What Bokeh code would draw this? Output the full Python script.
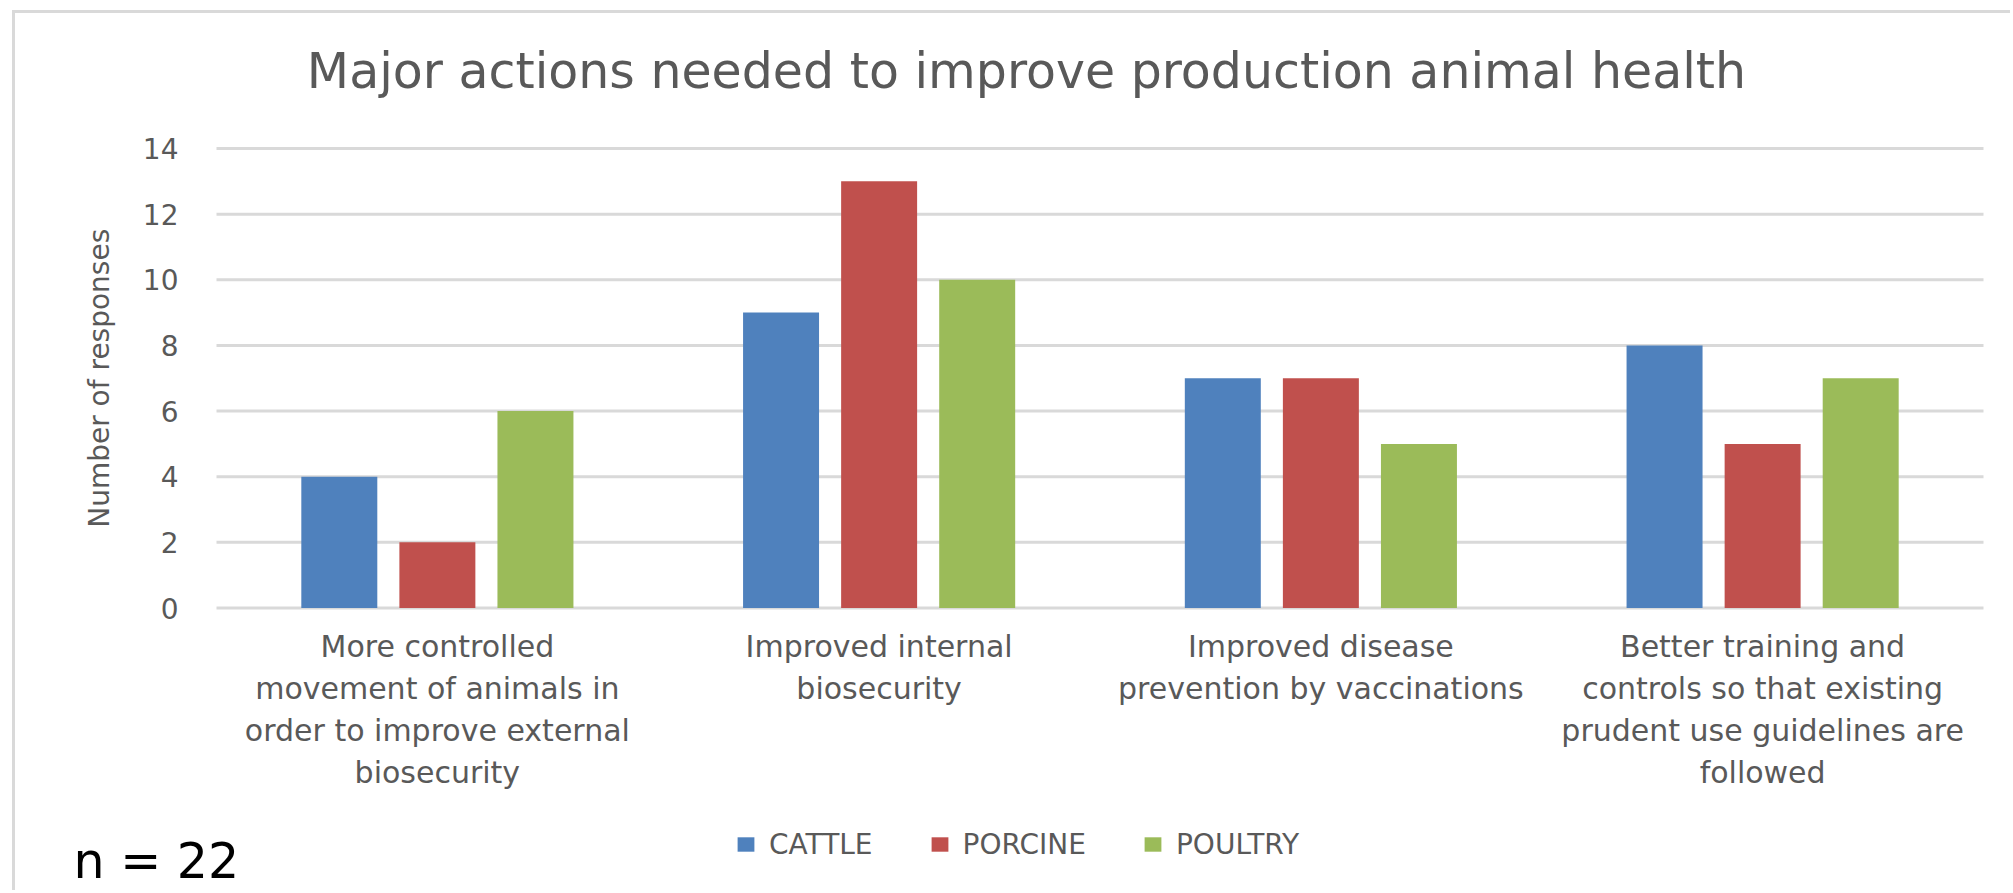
import math
from bokeh.plotting import figure
from bokeh.models import Range1d, Legend, LegendItem, Label, ColumnDataSource
from bokeh.core.properties import value
from bokeh.embed import file_html
from bokeh.resources import INLINE

# ---- data ----
categories = [
    "More controlled\nmovement of animals in\norder to improve external\nbiosecurity",
    "Improved internal\nbiosecurity",
    "Improved disease\nprevention by vaccinations",
    "Better training and\ncontrols so that existing\nprudent use guidelines are\nfollowed",
]
series_names = ["CATTLE", "PORCINE", "POULTRY"]
cattle = [4, 9, 7, 8]
porcine = [2, 13, 7, 5]
poultry = [6, 10, 5, 7]
y_ticks = [0, 2, 4, 6, 8, 10, 12, 14]
title_text = "Major actions needed to improve production animal health"
y_label = "Number of responses"
note_text = "n = 22"

# ---- style / layout (pixels of the page) ----
colors = ["#4F81BD", "#C0504D", "#9BBB59"]
FONT = value("DejaVu Sans")
GREY = "#595959"
GRID = "#D9D9D9"

OX, OY = 15, 13                 # canvas origin on the page (margin + border)
W, H = 2013 - OX, 893 - OY
PLOT_L, PLOT_R = 216, 1983      # plot area on the page
PLOT_T, PLOT_B = 148, 607.5
LABEL_SHIFT = 18                # empirical baseline correction for Label annotations

n_cat = len(categories)
ymax = y_ticks[-1]
ppu_y = (PLOT_B - PLOT_T) / ymax
ppu_x = (PLOT_R - PLOT_L) / n_cat
x_start = -(PLOT_L - OX) / ppu_x
x_end = n_cat + (OX + W - PLOT_R) / ppu_x
y_start = -(OY + H - PLOT_B) / ppu_y
y_end = ymax + (PLOT_T - OY) / ppu_y

p = figure(x_range=Range1d(x_start, x_end), y_range=Range1d(y_start, y_end),
           width=W, height=H, output_backend="svg", toolbar_location=None,
           x_axis_location=None, y_axis_location=None, title=None, min_border=0)
p.outline_line_color = None
p.grid.visible = False
p.margin = (10, 0, 0, 12)
p.styles = {"border-top": "3px solid #D9D9D9", "border-left": "3px solid #D9D9D9"}

# gridlines (value axis)
p.segment(x0=[0] * len(y_ticks), x1=[n_cat] * len(y_ticks), y0=y_ticks, y1=y_ticks,
          line_color=GRID, line_width=3)

# bars
centers = [i + 0.5 for i in range(n_cat)]
offsets = [-0.222, 0.0, 0.222]
values = {"CATTLE": cattle, "PORCINE": porcine, "POULTRY": poultry}
renderers = []
for name, off, col in zip(series_names, offsets, colors):
    s = ColumnDataSource(dict(x=[c + off for c in centers], top=values[name]))
    r = p.vbar(x="x", top="top", width=0.172, source=s, fill_color=col, line_color=None)
    renderers.append(r)

# y tick labels
p.text(x=[0] * len(y_ticks), y=y_ticks, text=[str(t) for t in y_ticks],
       x_offset=-38, text_align="right", text_baseline="middle",
       text_font=FONT, text_font_size="28px", text_color=GREY)

# y axis label
p.text(x=[0], y=[ymax / 2], text=[y_label], angle=math.pi / 2, x_offset=-117,
       text_align="center", text_baseline="middle",
       text_font=FONT, text_font_size="28px", text_color=GREY)

# category labels
p.text(x=centers, y=[0] * n_cat, text=categories, y_offset=21,
       text_align="center", text_baseline="top", text_line_height=1.2,
       text_font=FONT, text_font_size="30px", text_color=GREY)

# title
p.add_layout(Label(x=1026 - OX, y=893 - 89 + LABEL_SHIFT, x_units="screen", y_units="screen",
                   text=title_text, text_align="center", text_baseline="alphabetic",
                   text_font="DejaVu Sans", text_font_size="49px", text_color=GREY))

# legend
legend = Legend(items=[LegendItem(label=n, renderers=[r]) for n, r in zip(series_names, renderers)],
                orientation="horizontal", location=(735 - OX, 893 - 860.5),
                glyph_width=21, glyph_height=18, label_standoff=13, spacing=56,
                padding=0, margin=0, border_line_color=None, background_fill_alpha=0,
                label_text_font="DejaVu Sans", label_text_font_size="28px", label_text_color=GREY)
p.add_layout(legend, "center")

# sample size note
p.add_layout(Label(x=73 - OX, y=893 - 879 + LABEL_SHIFT, x_units="screen", y_units="screen",
                   text=note_text, text_font="DejaVu Sans", text_font_size="49px",
                   text_color="black", text_baseline="alphabetic"))

open("out.html", "w").write(file_html(p, INLINE))
